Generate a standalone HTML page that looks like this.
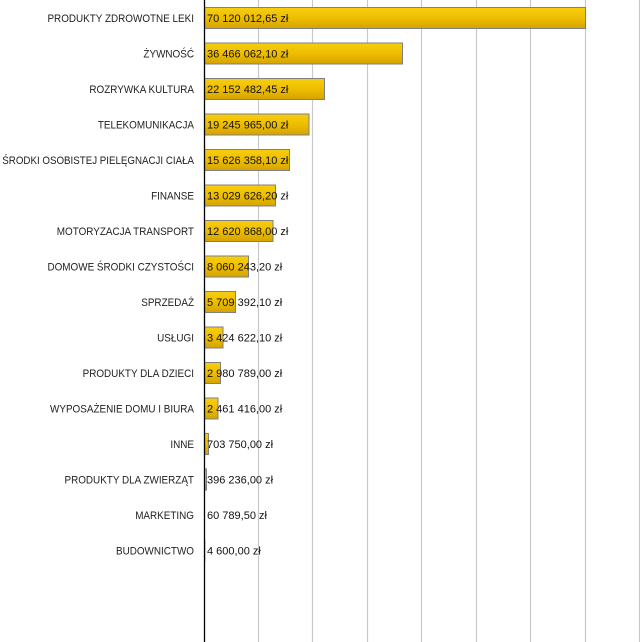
<!DOCTYPE html>
<html><head><meta charset="utf-8"><style>
html,body{margin:0;padding:0;background:#fff;}
svg{display:block;font-family:"Liberation Sans",Arial,sans-serif;font-size:11px;}
</style></head><body>
<svg width="640" height="642" viewBox="0 0 640 642" xmlns="http://www.w3.org/2000/svg">
<defs>
<linearGradient id="g" x1="0" y1="0" x2="0" y2="1">
<stop offset="0" stop-color="#f7cf10"/><stop offset="0.5" stop-color="#eebd00"/><stop offset="1" stop-color="#d4a300"/>
</linearGradient>
</defs>
<g stroke="#c8c8c8" stroke-width="1.2">
<line x1="258.5" y1="0" x2="258.5" y2="642"/>
<line x1="312.5" y1="0" x2="312.5" y2="642"/>
<line x1="367.5" y1="0" x2="367.5" y2="642"/>
<line x1="421.5" y1="0" x2="421.5" y2="642"/>
<line x1="476.5" y1="0" x2="476.5" y2="642"/>
<line x1="530.5" y1="0" x2="530.5" y2="642"/>
<line x1="585.5" y1="0" x2="585.5" y2="642"/>
<line x1="639.5" y1="0" x2="639.5" y2="642"/>
</g>
<g fill="url(#g)" stroke="#808080" stroke-width="1">
<rect x="204.5" y="7.5" width="381" height="21"/>
<rect x="204.5" y="43" width="198" height="21"/>
<rect x="204.5" y="78.5" width="120" height="21"/>
<rect x="204.5" y="114" width="104.5" height="21"/>
<rect x="204.5" y="149.5" width="85" height="21"/>
<rect x="204.5" y="185" width="71" height="21"/>
<rect x="204.5" y="220.5" width="68.5" height="21"/>
<rect x="204.5" y="256" width="44" height="21"/>
<rect x="204.5" y="291.5" width="31" height="21"/>
<rect x="204.5" y="327" width="18.5" height="21"/>
<rect x="204.5" y="362.5" width="16" height="21"/>
<rect x="204.5" y="398" width="13.5" height="21"/>
<rect x="204.5" y="433.5" width="4" height="21"/>
<rect x="204.5" y="469" width="2" height="21"/>
</g>
<rect x="204" y="505" width="1" height="21" fill="#888"/>
<rect x="204" y="540.5" width="1.5" height="21" fill="#e8b800"/>
<line x1="204.5" y1="0" x2="204.5" y2="642" stroke="#000" stroke-width="1.3"/>
<g text-anchor="end" fill="#222" font-size="11" transform="translate(194,0) scale(0.9,1) translate(-194,0)">
<text x="194" y="22">PRODUKTY ZDROWOTNE LEKI</text>
<text x="194" y="57.5">ŻYWNOŚĆ</text>
<text x="194" y="93">ROZRYWKA KULTURA</text>
<text x="194" y="128.5">TELEKOMUNIKACJA</text>
<text x="194" y="164" textLength="213" lengthAdjust="spacingAndGlyphs">ŚRODKI OSOBISTEJ PIELĘGNACJI CIAŁA</text>
<text x="194" y="199.5">FINANSE</text>
<text x="194" y="235">MOTORYZACJA TRANSPORT</text>
<text x="194" y="270.5">DOMOWE ŚRODKI CZYSTOŚCI</text>
<text x="194" y="306">SPRZEDAŻ</text>
<text x="194" y="341.5">USŁUGI</text>
<text x="194" y="377">PRODUKTY DLA DZIECI</text>
<text x="194" y="412.5">WYPOSAŻENIE DOMU I BIURA</text>
<text x="194" y="448">INNE</text>
<text x="194" y="483.5">PRODUKTY DLA ZWIERZĄT</text>
<text x="194" y="519">MARKETING</text>
<text x="194" y="554.5">BUDOWNICTWO</text>
</g>
<g fill="#111">
<text x="207" y="22">70 120 012,65 zł</text>
<text x="207" y="57.5">36 466 062,10 zł</text>
<text x="207" y="93">22 152 482,45 zł</text>
<text x="207" y="128.5">19 245 965,00 zł</text>
<text x="207" y="164">15 626 358,10 zł</text>
<text x="207" y="199.5">13 029 626,20 zł</text>
<text x="207" y="235">12 620 868,00 zł</text>
<text x="207" y="270.5">8 060 243,20 zł</text>
<text x="207" y="306">5 709 392,10 zł</text>
<text x="207" y="341.5">3 424 622,10 zł</text>
<text x="207" y="377">2 980 789,00 zł</text>
<text x="207" y="412.5">2 461 416,00 zł</text>
<text x="207" y="448">703 750,00 zł</text>
<text x="207" y="483.5">396 236,00 zł</text>
<text x="207" y="519">60 789,50 zł</text>
<text x="207" y="554.5">4 600,00 zł</text>
</g>
</svg>
</body></html>
